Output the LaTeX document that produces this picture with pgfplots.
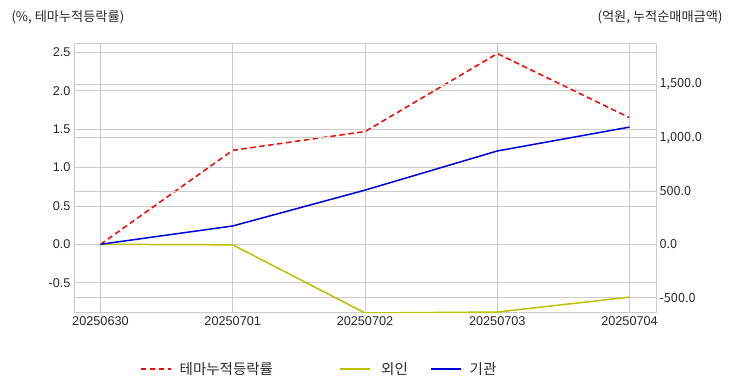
\documentclass[border=0pt]{standalone}
\usepackage{fontspec}
\setmainfont{Liberation Sans}
\newfontfamily\cjk{Noto Sans CJK KR}
\usepackage{pgfplots}
\pgfplotsset{compat=1.18}
\definecolor{gridc}{RGB}{204,204,204}
\definecolor{myyellow}{rgb}{0.75,0.75,0}
\definecolor{txt}{RGB}{40,40,40}
\pgfplotsset{
  common/.style={
    scale only axis, width=582bp, height=269bp,
    at={(74bp,79bp)}, anchor=south west,
    xmin=-0.2, xmax=4.2,
    major tick length=0pt,
    grid=major, grid style={gridc, line width=0.8bp},
    axis line style={gridc, line width=1bp},
    tick label style={font=\fontsize{12.7bp}{14bp}\selectfont, text=txt},
    /pgf/number format/assume math mode=true,
  }
}
\begin{document}
\begin{tikzpicture}
\useasboundingbox (0,0) rectangle (732bp,392bp);
\begin{axis}[common,
  xtick={0,1,2,3,4},
  xticklabels={20250630,20250701,20250702,20250703,20250704},
  ymin=-0.894, ymax=2.61,
  ytick={-0.5,0,0.5,1,1.5,2,2.5},
  yticklabel style={/pgf/number format/.cd, fixed, fixed zerofill, precision=1},
  axis y line*=left, axis x line*=bottom,
]
\addplot[red, line width=1.5bp, dash pattern=on 5.5bp off 3.5bp] coordinates {(0,0) (1,1.225) (2,1.47) (3,2.485) (4,1.65)};
\end{axis}
\begin{axis}[common,
  xtick={0,1,2,3,4}, xticklabels={},
  ymin=-644, ymax=1878,
  ytick={-500,0,500,1000,1500},
  yticklabel style={font=\cjk\fontsize{12.7bp}{14bp}\selectfont, /pgf/number format/.cd, fixed, fixed zerofill, precision=1, 1000 sep={,}},
  axis y line*=right, axis x line*=top,
  legend style={draw=none, fill=none, inner sep=0pt, at={(0.1134,-0.208)}, anchor=west, font=\cjk\fontsize{14.5bp}{16bp}\selectfont, text=txt},
  legend columns=3,
  legend image code/.code={\draw[#1] (0bp,0bp) -- (30bp,0bp);},
]
\addlegendimage{red, line width=1.5bp, dash pattern=on 5.5bp off 3.5bp}
\addlegendentry{\hspace{6bp}\makebox[158bp][l]{테마누적등락률}}
\addplot[myyellow, line width=1.5bp] coordinates {(0,0) (1,-5) (2,-644) (3,-635) (4,-495)};
\addlegendentry{\hspace{8bp}\makebox[47bp][l]{외인}}
\addplot[blue!85!black, line width=1.5bp] coordinates {(0,0) (1,172) (2,508) (3,875) (4,1099)};
\addlegendentry{\hspace{6bp}기관}
\end{axis}
\node[anchor=west, font=\cjk\fontsize{13.2bp}{15bp}\selectfont, text=txt] at (8bp,375bp) {(\%, 테마누적등락률)};
\node[anchor=east, font=\cjk\fontsize{13.2bp}{15bp}\selectfont, text=txt] at (726bp,375bp) {(억원, 누적순매매금액)};
\end{tikzpicture}
\end{document}
